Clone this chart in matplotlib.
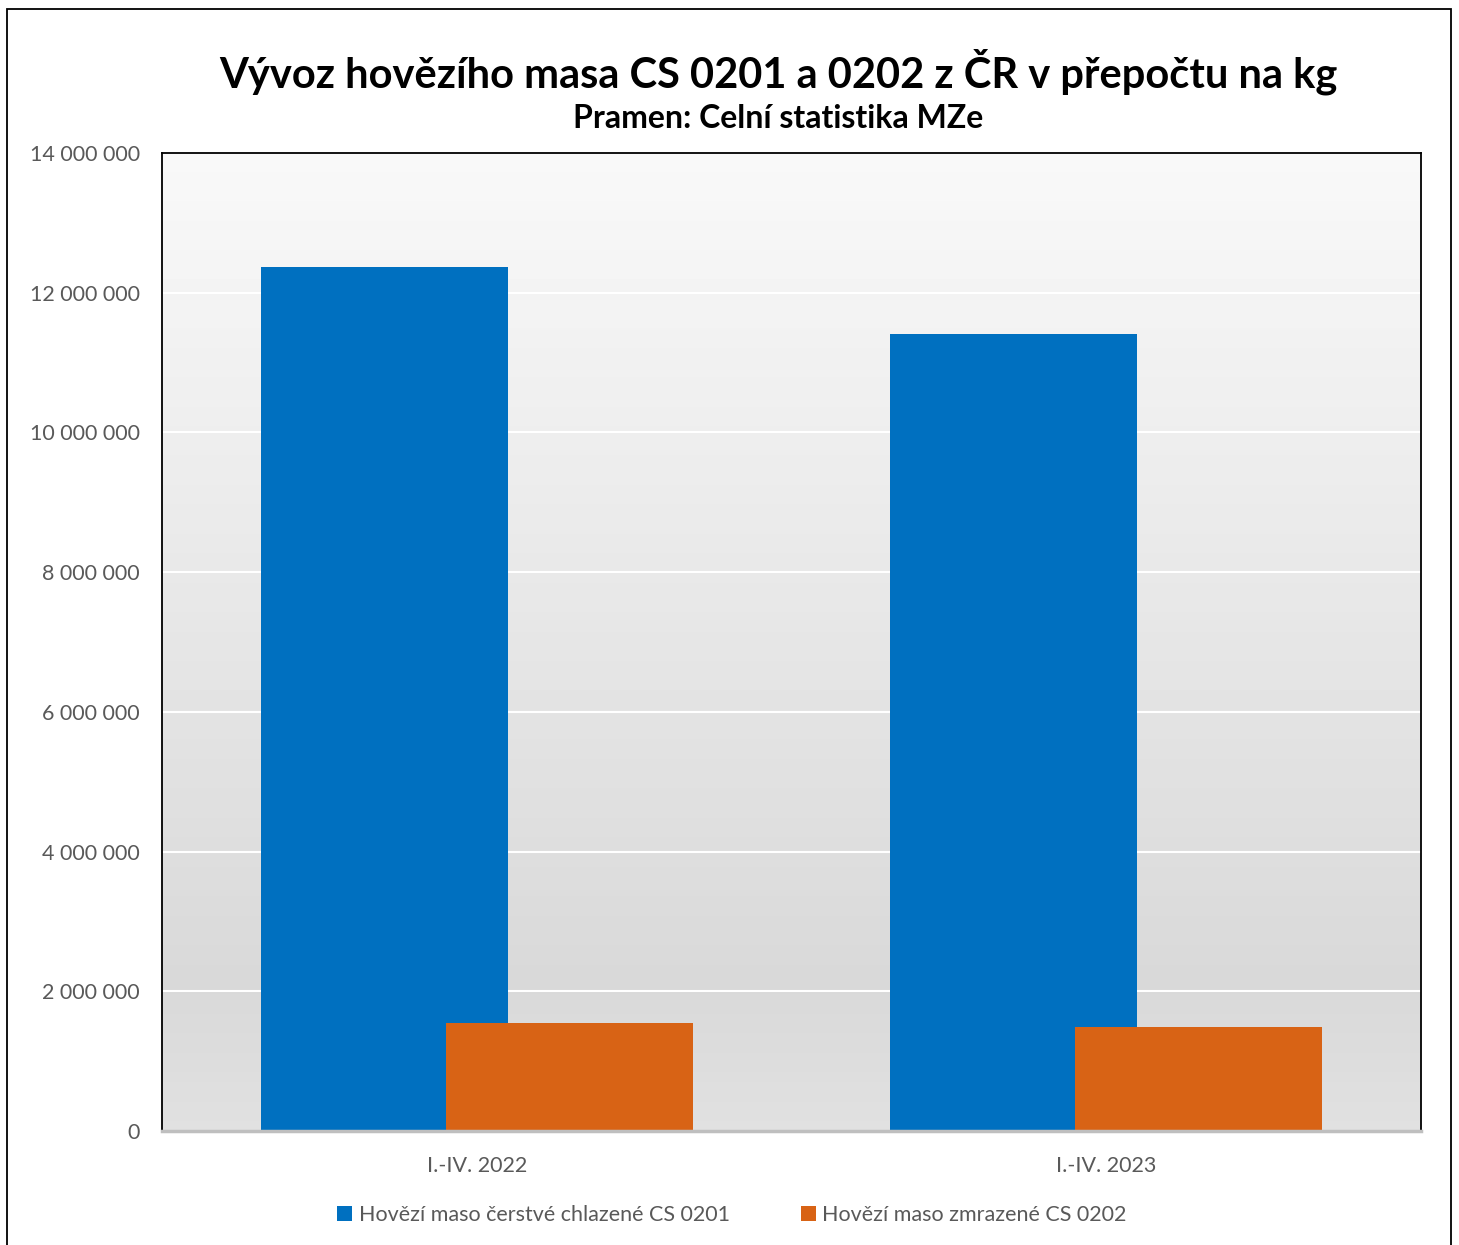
"""Export of beef CS 0201 and 0202 from CR, in kg."""

import matplotlib.pyplot as plt
import numpy as np
from matplotlib.patches import Rectangle

periods = ["I.-IV. 2022", "I.-IV. 2023"]
fresh_kg = [12_370_000, 11_410_000]
frozen_kg = [1_545_000, 1_485_000]
series_names = ["Hovězí maso čerstvé chlazené CS 0201", "Hovězí maso zmrazené CS 0202"]
yticks = [0, 2_000_000, 4_000_000, 6_000_000, 8_000_000, 10_000_000, 12_000_000, 14_000_000]

BLUE = "#0070C0"
ORANGE = "#D86315"
TEXT_GRAY = "#595959"
FONT = "Lato"

W, H = 1459, 1245
fig = plt.figure(figsize=(W / 100, H / 100), dpi=100)

# outer frame
fig.patches.append(Rectangle((7 / W, -0.01), (1451 - 7) / W, 1 - 9 / H + 0.01,
                             transform=fig.transFigure, fill=False,
                             edgecolor="black", linewidth=1.3))

ax = fig.add_axes([162 / W, 1 - 1131 / H, (1421 - 162) / W, (1131 - 153) / H])

# gradient background (light on top, darker toward bottom)
grad = np.concatenate([np.linspace(0.975, 0.85, 85), np.linspace(0.85, 0.88, 15)])
ax.imshow(grad[:, None], extent=(-0.5, 1.5, 0, 14_000_000), aspect="auto",
          cmap="gray", vmin=0, vmax=1, zorder=0, origin="upper")

x = np.arange(len(periods))
width = 0.392
offset = 0.147
ax.bar(x - offset, fresh_kg, width=width, color=BLUE, zorder=2, label=series_names[0])
ax.bar(x + offset, frozen_kg, width=width, color=ORANGE, zorder=3, label=series_names[1])

ax.set_xlim(-0.5, 1.5)
ax.set_ylim(0, 14_000_000)
ax.set_yticks(yticks)
ax.set_yticklabels([f"{v:,}".replace(",", " ") for v in yticks])
ax.set_xticks(x)
ax.set_xticklabels(periods)
ax.yaxis.grid(True, color="white", linewidth=1.5, zorder=1)
ax.set_axisbelow(True)
ax.tick_params(length=0, labelsize=15.5, labelcolor=TEXT_GRAY)
ax.tick_params(axis="y", pad=16)
ax.tick_params(axis="x", pad=18)
for lab in ax.get_xticklabels() + ax.get_yticklabels():
    lab.set_family(FONT)

for side in ["left", "top", "right"]:
    ax.spines[side].set_color("black")
    ax.spines[side].set_linewidth(1.3)
ax.spines["bottom"].set_color("#BFBFBF")
ax.spines["bottom"].set_linewidth(2.5)
ax.spines["bottom"].set_zorder(4)

fig.text(778 / W, 1 - 72 / H, "Vývoz hovězího masa CS 0201 a 0202 z ČR v přepočtu na kg",
         ha="center", va="center", fontsize=30, fontweight="bold", family=FONT)
fig.text(778 / W, 1 - 118 / H, "Pramen: Celní statistika MZe",
         ha="center", va="center", fontsize=23, fontweight="bold", family=FONT)

leg = fig.legend(loc="center", bbox_to_anchor=(732 / W, 1 - 1215 / H), ncol=2,
                 frameon=False, handlelength=0.7, handleheight=0.7, handletextpad=0.3,
                 columnspacing=3.3, prop={"family": FONT, "size": 15.5})
for t in leg.get_texts():
    t.set_color(TEXT_GRAY)

fig.savefig("out.png", dpi=100)
